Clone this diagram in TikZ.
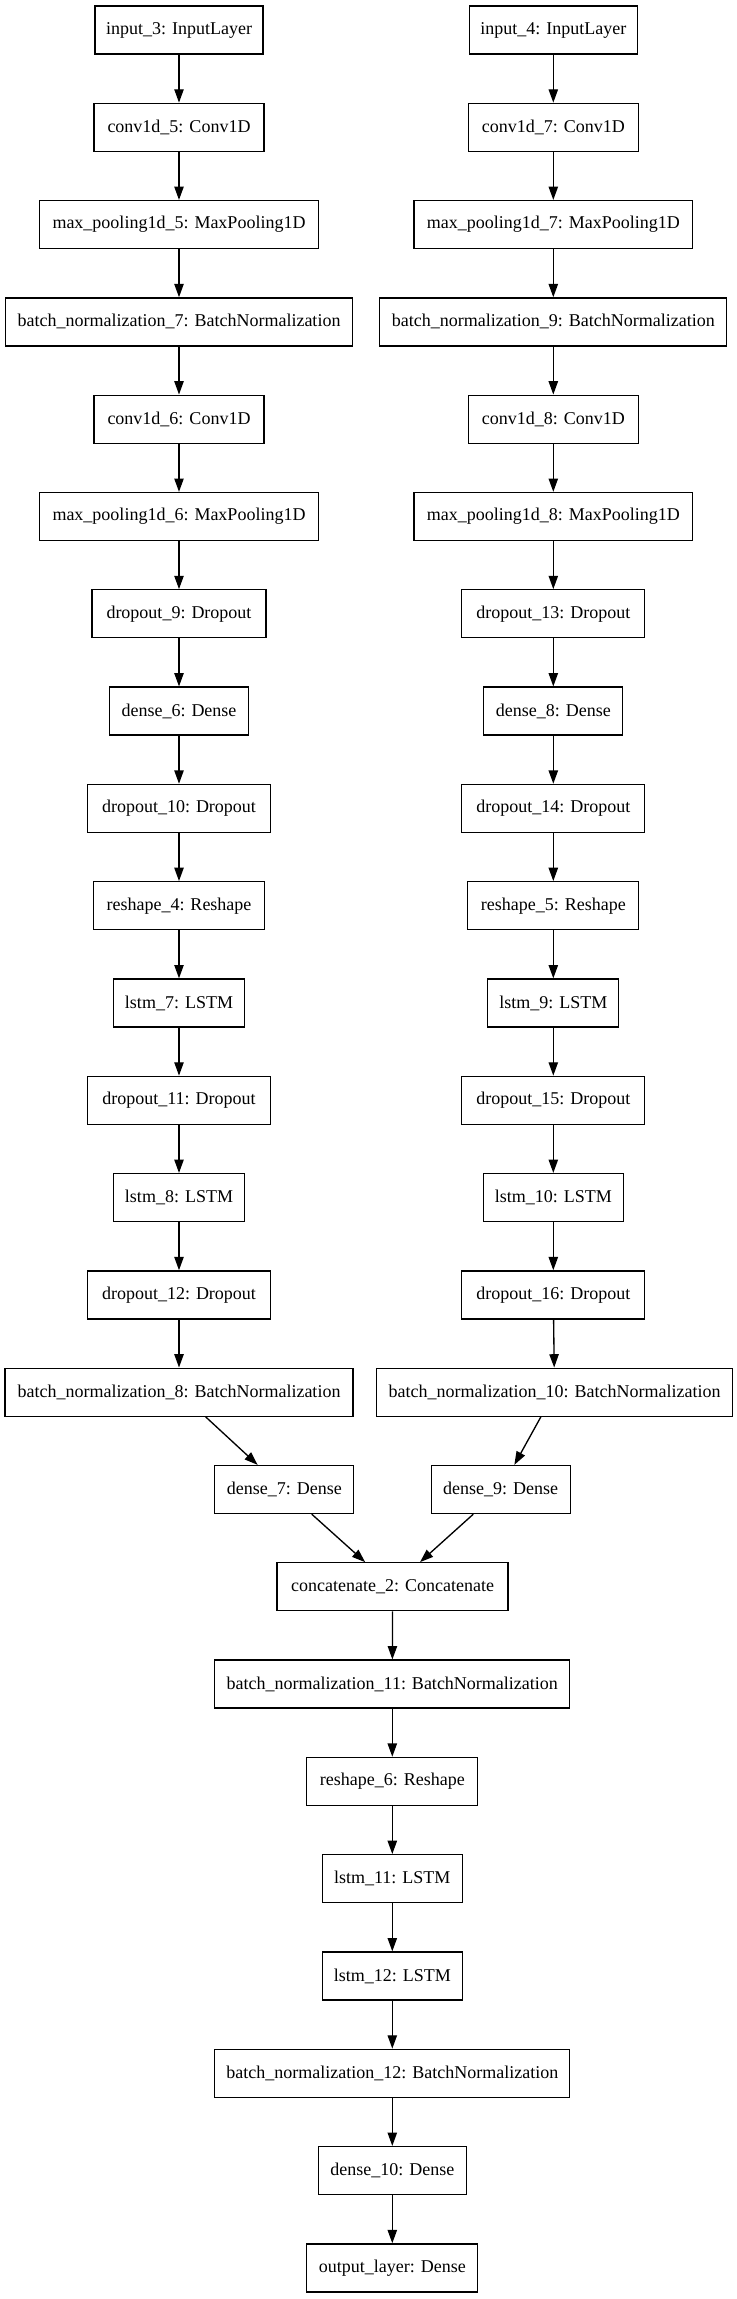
\documentclass[tikz,border=0pt]{standalone}
\usepackage{fontspec}
\setmainfont{Liberation Serif}
\usetikzlibrary{arrows.meta}
\tikzset{
  layer/.style={draw=black, line width=1pt, fill=white, rectangle, inner sep=0pt,
    minimum height=36pt, font=\fontsize{13.5}{16}\selectfont},
  flow/.style={draw=black, line width=1pt, -{Triangle[length=10pt,width=7pt]}}
}
\begin{document}
\begin{tikzpicture}[x=0.75pt,y=-0.75pt]
\useasboundingbox (0,0) rectangle (736,2299);
% left branch (x = 179)
\node[layer, minimum width=126pt]    (in3)  at (179,30)     {input\_3: InputLayer};
\node[layer, minimum width=127.5pt]  (c5)   at (179,127.3)  {conv1d\_5: Conv1D};
\node[layer, minimum width=209pt]    (mp5)  at (179,224.6)  {max\_pooling1d\_5: MaxPooling1D};
\node[layer, minimum width=260.25pt] (bn7)  at (179,321.9)  {batch\_normalization\_7: BatchNormalization};
\node[layer, minimum width=127.5pt]  (c6)   at (179,419.2)  {conv1d\_6: Conv1D};
\node[layer, minimum width=209pt]    (mp6)  at (179,516.5)  {max\_pooling1d\_6: MaxPooling1D};
\node[layer, minimum width=130.5pt]  (d9)   at (179,613.8)  {dropout\_9: Dropout};
\node[layer, minimum width=104.25pt] (de6)  at (179,711.1)  {dense\_6: Dense};
\node[layer, minimum width=137.25pt] (d10)  at (179,808.4)  {dropout\_10: Dropout};
\node[layer, minimum width=128.25pt] (r4)   at (179,905.7)  {reshape\_4: Reshape};
\node[layer, minimum width=98.25pt]  (l7)   at (179,1003)   {lstm\_7: LSTM};
\node[layer, minimum width=137.25pt] (d11)  at (179,1100.3) {dropout\_11: Dropout};
\node[layer, minimum width=98.25pt]  (l8)   at (179,1197.6) {lstm\_8: LSTM};
\node[layer, minimum width=137.25pt] (d12)  at (179,1294.9) {dropout\_12: Dropout};
\node[layer, minimum width=261pt]    (bn8)  at (179,1392.2) {batch\_normalization\_8: BatchNormalization};
\node[layer, minimum width=104.25pt] (de7)  at (284.3,1489.5) {dense\_7: Dense};
% right branch (x = 553.3)
\node[layer, minimum width=126pt]    (in4)  at (553.3,30)     {input\_4: InputLayer};
\node[layer, minimum width=127.5pt]  (c7)   at (553.3,127.3)  {conv1d\_7: Conv1D};
\node[layer, minimum width=209pt]    (mp7)  at (553.3,224.6)  {max\_pooling1d\_7: MaxPooling1D};
\node[layer, minimum width=260.25pt] (bn9)  at (553.3,321.9)  {batch\_normalization\_9: BatchNormalization};
\node[layer, minimum width=127.5pt]  (c8)   at (553.3,419.2)  {conv1d\_8: Conv1D};
\node[layer, minimum width=209pt]    (mp8)  at (553.3,516.5)  {max\_pooling1d\_8: MaxPooling1D};
\node[layer, minimum width=137.25pt] (d13)  at (553.3,613.8)  {dropout\_13: Dropout};
\node[layer, minimum width=104.25pt] (de8)  at (553.3,711.1)  {dense\_8: Dense};
\node[layer, minimum width=137.25pt] (d14)  at (553.3,808.4)  {dropout\_14: Dropout};
\node[layer, minimum width=128.25pt] (r5)   at (553.3,905.7)  {reshape\_5: Reshape};
\node[layer, minimum width=98.25pt]  (l9)   at (553.3,1003)   {lstm\_9: LSTM};
\node[layer, minimum width=137.25pt] (d15)  at (553.3,1100.3) {dropout\_15: Dropout};
\node[layer, minimum width=105pt]    (l10)  at (553.3,1197.6) {lstm\_10: LSTM};
\node[layer, minimum width=137.25pt] (d16)  at (553.3,1294.9) {dropout\_16: Dropout};
\node[layer, minimum width=267pt]    (bn10) at (554.5,1392.2) {batch\_normalization\_10: BatchNormalization};
\node[layer, minimum width=104.25pt] (de9)  at (500.7,1489.5) {dense\_9: Dense};
% merged trunk (x = 392.3)
\node[layer, minimum width=173.25pt] (cat)  at (392.6,1586.8) {concatenate\_2: Concatenate};
\node[layer, minimum width=266.25pt] (bn11) at (392.3,1684.1) {batch\_normalization\_11: BatchNormalization};
\node[layer, minimum width=128.25pt] (r6)   at (392.3,1781.4) {reshape\_6: Reshape};
\node[layer, minimum width=105pt]    (l11)  at (392.3,1878.7) {lstm\_11: LSTM};
\node[layer, minimum width=105pt]    (l12)  at (392.3,1976)   {lstm\_12: LSTM};
\node[layer, minimum width=266.25pt] (bn12) at (392.3,2073.3) {batch\_normalization\_12: BatchNormalization};
\node[layer, minimum width=111pt]    (de10) at (392.3,2170.6) {dense\_10: Dense};
\node[layer, minimum width=128.25pt] (out)  at (392.3,2267.9) {output\_layer: Dense};
% connectors
\foreach \a/\b in {in3/c5, c5/mp5, mp5/bn7, bn7/c6, c6/mp6, mp6/d9, d9/de6, de6/d10, d10/r4, r4/l7, l7/d11, d11/l8, l8/d12, d12/bn8,
  in4/c7, c7/mp7, mp7/bn9, bn9/c8, c8/mp8, mp8/d13, d13/de8, de8/d14, d14/r5, r5/l9, l9/d15, d15/l10, l10/d16, d16/bn10,
  bn8/de7, bn10/de9, de7/cat, de9/cat,
  cat/bn11, bn11/r6, r6/l11, l11/l12, l12/bn12, bn12/de10, de10/out}
  \draw[flow] (\a) -- (\b);
\end{tikzpicture}
\end{document}
